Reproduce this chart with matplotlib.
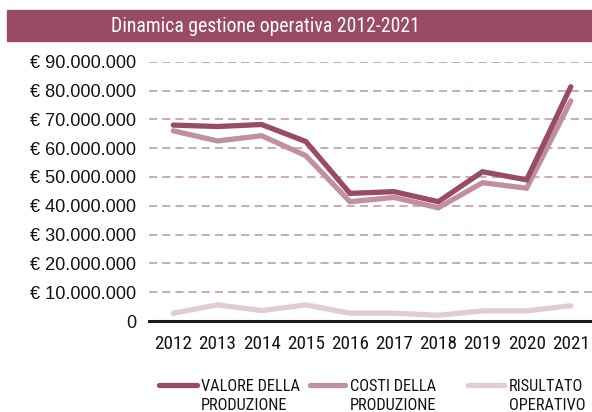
import matplotlib
matplotlib.use("Agg")
import matplotlib.pyplot as plt
from matplotlib import font_manager as fm
from matplotlib.lines import Line2D
from matplotlib.patches import Rectangle
from matplotlib.ticker import FuncFormatter

years = ["2012", "2013", "2014", "2015", "2016", "2017", "2018", "2019", "2020", "2021"]
valore = [68.0, 67.5, 68.2, 62.3, 44.3, 44.9, 41.4, 51.8, 49.0, 81.3]
costi = [66.0, 62.5, 64.3, 57.4, 41.4, 42.9, 39.3, 48.0, 46.1, 76.4]
risultato = [2.7, 5.6, 3.6, 5.6, 2.7, 2.7, 2.0, 3.5, 3.5, 5.3]
series_labels = [("VALORE DELLA", "PRODUZIONE"), ("COSTI DELLA", "PRODUZIONE"),
                 ("RISULTATO", "OPERATIVO")]
title = "Dinamica gestione operativa 2012-2021"
yticks = [0, 10, 20, 30, 40, 50, 60, 70, 80, 90]

colors = ["#984B62", "#C0909C", "#E3CBD2"]

# pick a condensed font if available
ttf = fm.fontManager.ttflist
names = {f.name for f in ttf}
cond = None
for cand in ["Liberation Sans Narrow", "Roboto Condensed", "Open Sans Condensed"]:
    if cand in names:
        cond = dict(family=cand)
        break
if cond is None:
    if any(f.name == "DejaVu Sans" and f.stretch in ("condensed", 600, "semi-condensed") for f in ttf):
        cond = dict(family="DejaVu Sans", stretch="condensed")
    else:
        cond = dict(family="Liberation Sans")

W, H = 592, 412
fig = plt.figure(figsize=(W / 100, H / 100), dpi=100)

def fx(px):
    return px / W

def fy(py):
    return 1 - py / H

# banner
fig.patches.append(Rectangle((fx(7), fy(41)), 1 - fx(7), (41 - 10) / H,
                             transform=fig.transFigure, color="#984B62", zorder=0))
fig.text(fx(265), fy(26.5), title, color="white", ha="center", va="center",
         fontsize=14.2, **cond)

left, right = 149, 592
top, bottom = 61.7, 321
ax = fig.add_axes([fx(left), fy(bottom), (right - left) / W, (bottom - top) / H])
x = list(range(len(years)))
for vals, c, z in zip([valore, costi, risultato], colors, [5, 4, 3]):
    ax.plot(x, vals, color=c, lw=3.8, solid_capstyle="round",
            solid_joinstyle="miter", zorder=z, clip_on=False)

ax.set_xlim(-0.55, 9.48)
ax.set_ylim(0, 90)
ax.set_yticks(yticks)
ax.yaxis.set_major_formatter(FuncFormatter(
    lambda v, p: "0" if v == 0 else "€ " + f"{int(v * 1e6):,}".replace(",", ".")))
ax.set_xticks(x)
ax.set_xticklabels(years)
for sp in ax.spines.values():
    sp.set_visible(False)
ax.tick_params(axis="both", length=0)
ax.tick_params(axis="y", pad=9, labelsize=13.1, labelcolor="#141414")
ax.tick_params(axis="x", pad=10, labelcolor="#141414")
for lab in ax.get_yticklabels():
    lab.set_family("Liberation Sans")
for lab in ax.get_xticklabels():
    lab.set_fontsize(13.8)
    for k, v in cond.items():
        getattr(lab, "set_" + k)(v)
for v in yticks[1:]:
    ax.axhline(v, color="#C9A3AE", lw=1.3, dashes=(4.5, 2.8), zorder=1)
ax.axhline(0, color="#1a1a1a", lw=2.2, zorder=2, clip_on=False)
ax.patch.set_alpha(0)

# legend
handles = [(159, 196.5, 201), (310, 345, 350), (468, 504, 509)]
ly = 385
for (h0, h1, tx), c, (l1, l2) in zip(handles, colors, series_labels):
    fig.lines.append(Line2D([fx(h0), fx(h1)], [fy(ly), fy(ly)], transform=fig.transFigure,
                            color=c, lw=3.8, solid_capstyle="round"))
    fig.text(fx(tx), fy(391), l1, ha="left", va="baseline", fontsize=11.8,
             color="#141414", **cond)
    fig.text(fx(tx), fy(410.5), l2, ha="left", va="baseline", fontsize=11.8,
             color="#141414", **cond)

fig.savefig("out.png", dpi=100)
